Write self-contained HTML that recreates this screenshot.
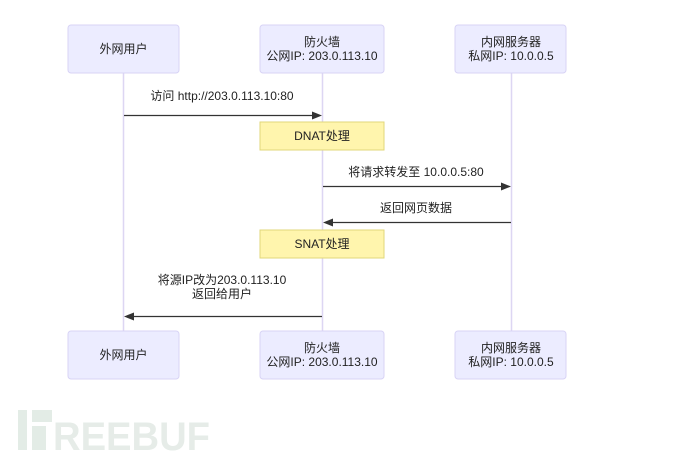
<!DOCTYPE html>
<html><head><meta charset="utf-8"><style>
body{margin:0;width:690px;height:459px;background:#fff;overflow:hidden;font-family:"Liberation Sans","Noto Sans CJK SC",sans-serif;}
</style></head><body>
<svg width="690" height="459" xmlns="http://www.w3.org/2000/svg" font-family="Liberation Sans, Noto Sans CJK SC, sans-serif" font-size="12" fill="#333">
<g stroke="#ddd6f3" stroke-width="1.5">
<line x1="123.5" y1="73" x2="123.5" y2="331"/>
<line x1="322.5" y1="73" x2="322.5" y2="331"/>
<line x1="511.5" y1="73" x2="511.5" y2="331"/>
</g>
<g fill="#ececff" stroke="#d8d3f5">
<rect x="68" y="25" width="111" height="48" rx="3"/>
<rect x="260" y="25" width="124" height="48" rx="3"/>
<rect x="455" y="25" width="111" height="48" rx="3"/>
<rect x="68" y="331" width="111" height="48" rx="3"/>
<rect x="260" y="331" width="124" height="48" rx="3"/>
<rect x="455" y="331" width="111" height="48" rx="3"/>
</g>
<g fill="#fff5ad" stroke="#e0d77a">
<rect x="260" y="122" width="124" height="28"/>
<rect x="260" y="230" width="124" height="28"/>
</g>
<g text-anchor="middle" fill="#222">
<text x="123.5" y="53">外网用户</text>
<text x="322" y="46">防火墙</text><text x="322" y="60">公网IP: 203.0.113.10</text>
<text x="511" y="46">内网服务器</text><text x="511" y="60">私网IP: 10.0.0.5</text>
<text x="123.5" y="359">外网用户</text>
<text x="322" y="352">防火墙</text><text x="322" y="366">公网IP: 203.0.113.10</text>
<text x="511" y="352">内网服务器</text><text x="511" y="366">私网IP: 10.0.0.5</text>
<text x="322" y="140">DNAT处理</text>
<text x="322" y="248">SNAT处理</text>
<text x="222" y="100">访问 http://203.0.113.10:80</text>
<text x="416" y="176">将请求转发至 10.0.0.5:80</text>
<text x="416" y="212">返回网页数据</text>
<text x="222" y="284">将源IP改为203.0.113.10</text>
<text x="222" y="298">返回给用户</text>
</g>
<g stroke="#333" stroke-width="1.3">
<line x1="124" y1="115.5" x2="314" y2="115.5"/>
<line x1="323" y1="186.5" x2="503" y2="186.5"/>
<line x1="511" y1="222.5" x2="331" y2="222.5"/>
<line x1="322" y1="316.5" x2="132" y2="316.5"/>
</g>
<g fill="#333">
<path d="M322 115.5 L312 111.5 L312 119.5Z"/>
<path d="M511 186.5 L501 182.5 L501 190.5Z"/>
<path d="M323 222.5 L333 218.5 L333 226.5Z"/>
<path d="M124 316.5 L134 312.5 L134 320.5Z"/>
</g>
<g fill="#e3ece6">
<rect x="18" y="410" width="9" height="40"/>
<rect x="32" y="410" width="20" height="12"/>
<rect x="32" y="426" width="14" height="24"/>
</g>
<text x="53" y="450" font-size="40" font-weight="bold" fill="#e6ece8" textLength="157" lengthAdjust="spacingAndGlyphs">REEBUF</text>
</svg>
</body></html>
